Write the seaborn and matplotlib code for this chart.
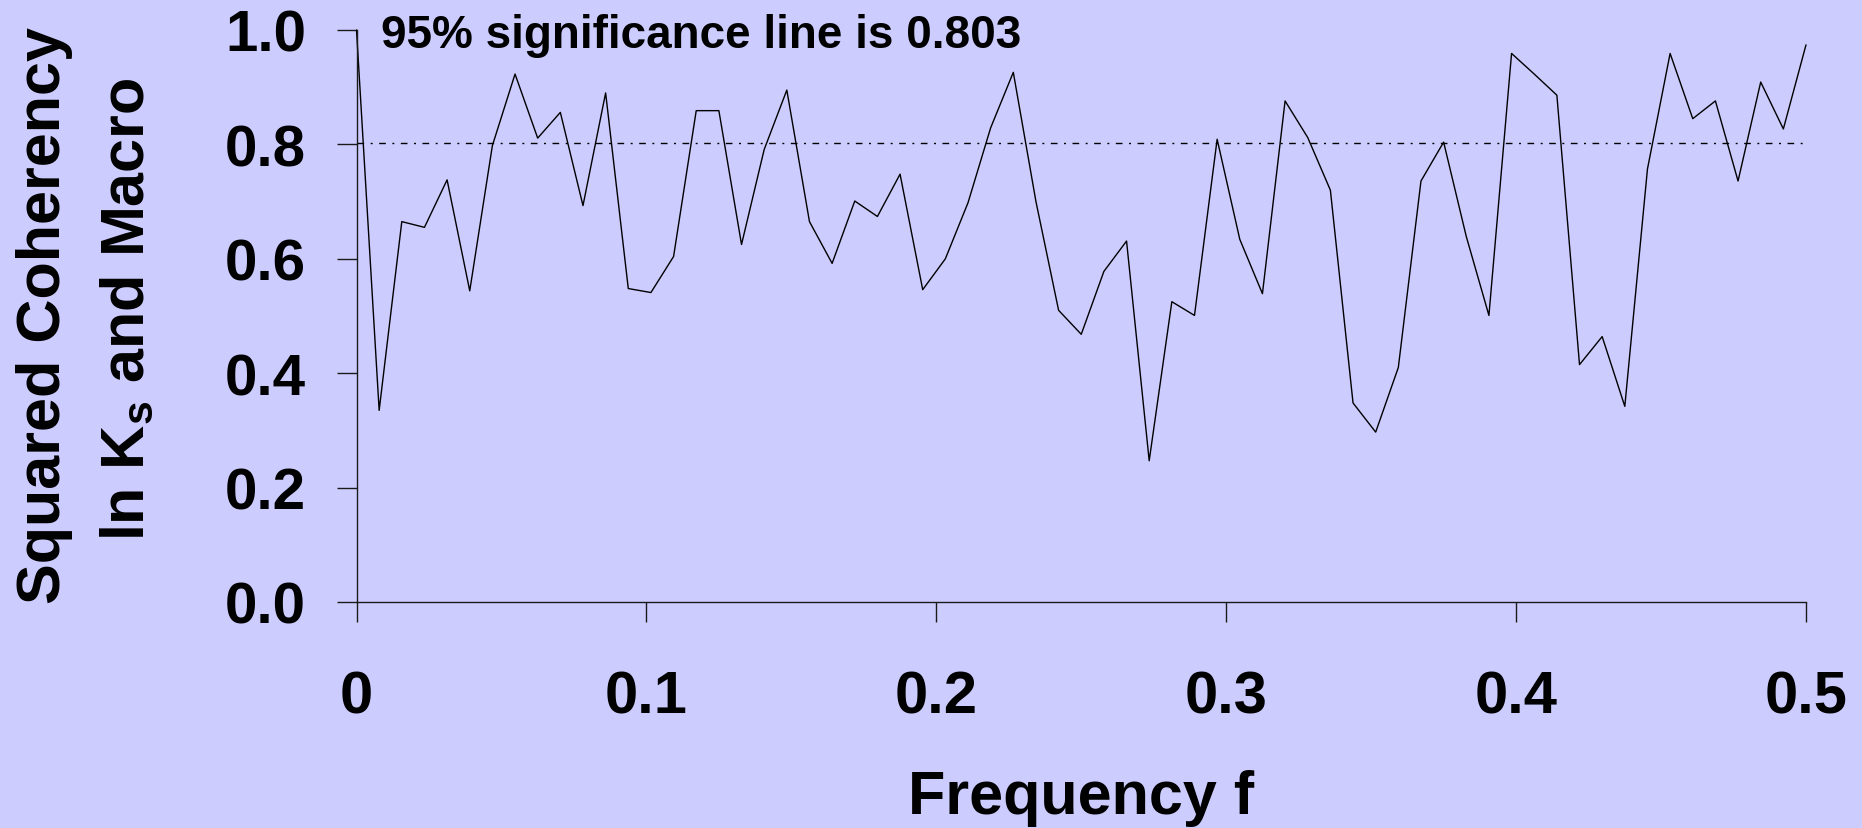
import numpy as np
import pandas as pd
import matplotlib
matplotlib.use("Agg")
import matplotlib.pyplot as plt
import seaborn as sns

# Squared coherency between ln Ks and the macro series at the Fourier frequencies j/128
n_freq = 65
frequency = np.arange(n_freq) / 128.0
coherency = [
    1.000, 0.335, 0.665, 0.655, 0.738, 0.544, 0.798, 0.923, 0.811, 0.856,
    0.693, 0.890, 0.548, 0.541, 0.604, 0.859, 0.859, 0.625, 0.791, 0.895,
    0.665, 0.592, 0.701, 0.674, 0.748, 0.546, 0.600, 0.698, 0.829, 0.926,
    0.700, 0.510, 0.468, 0.578, 0.631, 0.247, 0.525, 0.501, 0.809, 0.634,
    0.539, 0.876, 0.812, 0.720, 0.348, 0.297, 0.410, 0.736, 0.804, 0.639,
    0.501, 0.959, 0.923, 0.886, 0.415, 0.464, 0.342, 0.757, 0.959, 0.845,
    0.876, 0.736, 0.909, 0.827, 0.974,
]
significance = 0.803
x_ticks = [0, 0.1, 0.2, 0.3, 0.4, 0.5]
x_tick_labels = ["0", "0.1", "0.2", "0.3", "0.4", "0.5"]
y_ticks = [0.0, 0.2, 0.4, 0.6, 0.8, 1.0]
y_tick_labels = ["0.0", "0.2", "0.4", "0.6", "0.8", "1.0"]

df = pd.DataFrame({"Frequency": frequency, "Coherency": coherency})

bg = "#CCCCFF"
sns.set_theme(style="ticks")
plt.rcParams["font.family"] = ["Liberation Sans", "DejaVu Sans"]
plt.rcParams["font.weight"] = "bold"
plt.rcParams["text.color"] = "black"
plt.rcParams["axes.labelcolor"] = "black"
plt.rcParams["xtick.color"] = "black"
plt.rcParams["ytick.color"] = "black"
plt.rcParams["mathtext.fontset"] = "custom"
plt.rcParams["mathtext.rm"] = "Liberation Sans:bold"
plt.rcParams["mathtext.it"] = "Liberation Sans:bold"
plt.rcParams["mathtext.bf"] = "Liberation Sans:bold"

W, H, DPI = 1862, 829, 100
fig = plt.figure(figsize=(W / DPI, H / DPI), dpi=DPI, facecolor=bg)
ax = fig.add_axes([356.5 / W, 1 - 603 / H, (1806 - 356.5) / W, (603 - 31) / H])
ax.set_facecolor(bg)

sns.lineplot(data=df, x="Frequency", y="Coherency", color="black",
             linewidth=1.0, ax=ax, clip_on=False)
ax.plot([0, 0.5], [significance, significance], color="black",
        linewidth=1.0, linestyle=(0, (4.8, 4.7, 1.4, 4.7)))

ax.set_xlim(0, 0.5)
ax.set_ylim(0, 1.0)
ax.set_xticks(x_ticks)
ax.set_xticklabels(x_tick_labels, fontsize=43, fontweight="bold", color="black")
ax.set_yticks(y_ticks)
ax.set_yticklabels(y_tick_labels, fontsize=42, fontweight="bold", color="black")
ax.tick_params(axis="x", length=14.4, width=1.0, color="#1a1a1a", pad=34)
ax.tick_params(axis="y", length=14.4, width=1.0, color="#1a1a1a", pad=22)
for side in ("top", "right"):
    ax.spines[side].set_visible(False)
for side in ("left", "bottom"):
    ax.spines[side].set_color("#1a1a1a")
    ax.spines[side].set_linewidth(1.0)

ax.set_xlabel("Frequency f", fontsize=44, fontweight="bold", labelpad=32,
              color="black")
ax.set_ylabel("")

fig.text(60 / W, 1 - 316 / H, "Squared Coherency", rotation=90,
         rotation_mode="anchor", ha="center", va="baseline",
         fontsize=44, fontweight="bold", color="black")
fig.text(143 / W, 1 - 309 / H, r"ln K$_\mathrm{s}$ and Macro", rotation=90,
         rotation_mode="anchor", ha="center", va="baseline",
         fontsize=44, fontweight="bold", color="black")

fig.text(381 / W, 1 - 47.5 / H, "95% significance line is 0.803",
         ha="left", va="baseline", fontsize=33, fontweight="bold",
         color="black")

fig.savefig("out.png", dpi=DPI, facecolor=bg)
